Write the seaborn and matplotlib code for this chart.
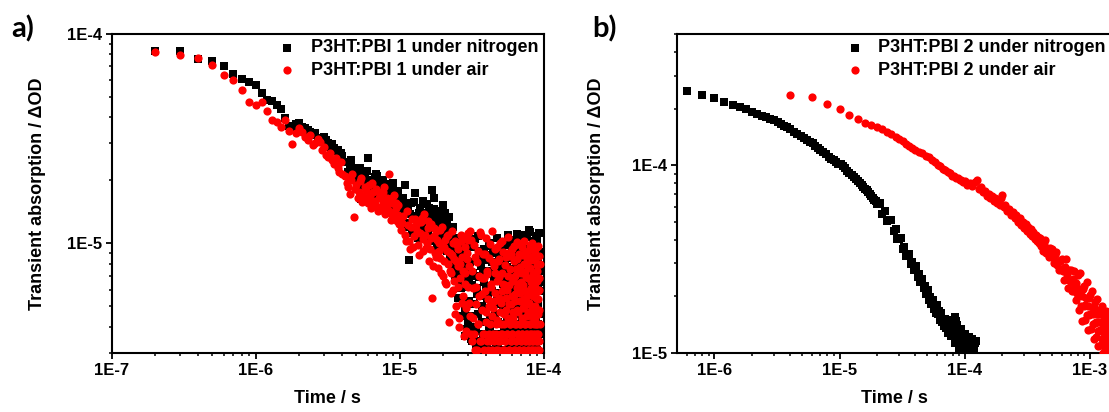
import numpy as np
import matplotlib
matplotlib.use("Agg")
import matplotlib.pyplot as plt
import seaborn as sns
from matplotlib.ticker import LogLocator, FuncFormatter, NullFormatter

# ---------------- data: panel a (time in units of 1e-7 s, dOD in units of 1e-6) ----------------
time_a_100ns = [
    2, 3, 4, 5, 6, 7, 8, 9, 10, 11, 12, 13, 14, 15, 16, 17, 18, 19, 20,
    21, 22, 23, 24, 25, 26, 27, 28, 29, 30, 31, 32, 33, 34, 35, 36, 37, 38, 39, 40,
    42, 44, 46, 48, 50, 52, 54, 56, 58, 60, 62, 64, 66, 68, 70, 72, 74, 76, 78, 80,
    82, 84, 86, 88, 90, 92, 94, 96, 98, 100,
    104, 108, 112, 116, 120, 124, 128, 132, 136, 140, 144, 148, 152, 156, 160, 164, 168,
    172, 176, 180, 184, 188, 192, 196, 200, 204, 208, 212, 216, 220, 224, 228, 232, 236,
    240, 244, 248, 252, 256, 260, 264, 268, 272, 276, 280, 284, 288, 292, 296, 300,
    305, 310, 315, 320, 325, 330, 335, 340, 345, 350, 355, 360, 365, 370, 375, 380,
    385, 390, 395, 400, 405, 410, 415, 420, 425, 430, 435, 440, 445, 450, 455, 460,
    465, 470, 475, 480, 485, 490, 495, 500, 505, 510, 515, 520, 525, 530, 535, 540,
    545, 550, 555, 560, 565, 570, 575, 580, 585, 590, 595, 600, 605, 610, 615, 620,
    625, 630, 635, 640, 645, 650, 655, 660, 665, 670, 675, 680, 685, 690, 695, 700,
    705, 710, 715, 720, 725, 730, 735, 740, 745, 750, 755, 760, 765, 770, 775, 780,
    785, 790, 795, 800, 805, 810, 815, 820, 825, 830, 835, 840, 845, 850, 855, 860,
    865, 870, 875, 880, 885, 890, 895, 900, 905, 910, 915, 920, 925, 930, 935, 940,
]
nitrogen_a = [
    83, 83, 76, 74, 70, 64.5, 61, 59, 57, 52, 48.5, 48, 46, 44, 39.5, 36.5, 36, 37, 37.7,
    36, 35.5, 34.7, 34, 33, 33.5, 32, 31.5, 30.5, 32.3, 31, 30, 29, 29.8, 28.5, 27.5, 28, 26.4, 27, 26,
    24.5, 22, 25, 21.5, 22.8, 20.5, 16.2, 21, 19.5, 25.5, 15.8, 20, 18.5, 21.5, 20.9, 17.5, 19, 18,
    16.5, 18.8, 17, 15.5, 18, 16.8, 19.5, 15, 17.2, 14.5, 16, 15.2,
    14.5, 19, 12.5, 8.3, 15.5, 13, 17.3, 11.8, 14, 12.2, 16, 10.8, 13.5, 11.5, 14.8, 12, 18,
    16.4, 10.5, 13, 11.2, 14.2, 9.8, 12.5, 15.2, 10.5, 12.8, 9.2, 11.5, 13.4, 8.8, 11.8, 10, 7.5,
    9.5, 6.8, 10.6, 8.2, 5.5, 9, 7, 10.2, 4.5, 8, 6.2, 3.6, 9.4, 5.2, 7.6, 4.2,
    6.8, 4.5, 9.6, 3.4, 7.2, 5.1, 10.5, 3.8, 6.1, 8.4, 3.2, 5.6, 7.8, 4.2, 9.2, 3.6,
    6.5, 4.8, 8.8, 3.3, 5.4, 7.4, 3.9, 9.7, 4.4, 6.2, 3.5, 8.1, 5.2, 3.1, 7.0, 4.6,
    9.0, 3.7, 5.8, 6.9, 3.2, 8.6, 4.1, 5.3, 7.6, 3.4, 10.1, 4.9, 6.4, 3.6, 5.5, 8.2,
    3.9, 6.6, 4.3, 9.8, 3.1, 5.9, 7.3, 4.7, 3.5, 8.5, 5.0, 6.3, 3.3, 10.4, 4.4, 7.1,
    5.7, 3.8, 8.9, 4.1, 6.0, 3.2, 7.7, 5.2, 9.3, 3.6, 4.8, 6.7, 10.4, 3.4, 5.5, 8.0,
    4.2, 6.4, 3.1, 9.1, 5.1, 7.5, 3.7, 4.6, 11.0, 6.1, 3.3, 8.3, 5.4, 4.0, 7.0, 3.5,
    11.6, 5.8, 4.3, 8.7, 3.2, 6.6, 9.6, 4.9, 3.6, 7.2, 5.3, 10.2, 3.4, 6.2, 4.5, 8.8,
    3.9, 7.9, 5.6, 10.8, 3.3, 6.9, 4.7, 9.5, 3.1, 5.2, 8.2, 4.1, 6.5, 11.2, 3.7, 7.4,
]
air_a = [
    82, 79, 76.5, 71, 64, 60, 54, 47.3, 45.8, 47.5, 43, 39, 38, 36, 39, 34.5, 29.8, 33.5, 35.5,
    34, 32.3, 31, 33, 29.5, 30, 31.5, 30.5, 28, 29, 26.5, 25.9, 27, 25, 24, 25.5, 23, 22, 24.5, 21.5,
    21, 18.5, 20, 13.4, 19, 17.5, 20.5, 16.8, 18, 15.5, 17, 19.5, 16, 15, 17.8, 16.5, 14.5, 16,
    18.5, 15, 16.5, 21.4, 14, 15.5, 13.5, 17, 14.8, 12.8, 15.2, 13.2,
    12.5, 11, 14.2, 10.2, 12, 9.6, 13, 11.5, 8.8, 12.6, 10.5, 13.8, 9.5, 11.8, 8.2, 12.4, 5.5,
    10.8, 9, 11.4, 7.6, 10, 8.5, 12, 7, 9.6, 6.5, 10.8, 8, 4.2, 9, 7.2, 11.5, 6,
    8.4, 10.2, 5, 7.8, 9.4, 4, 6.8, 11, 8.6, 5.6, 10.5, 7.2, 3.8, 9, 6.2, 11.2,
    5.2, 11.5, 3.7, 7.4, 4.4, 9.8, 3.1, 6.2, 8.1, 4.1, 5.6, 11.3, 3.4, 6.8, 4.8, 8.9,
    3.7, 5.9, 10.6, 4.2, 7.1, 3.1, 5.0, 8.5, 3.4, 6.4, 11.4, 4.5, 3.7, 7.8, 5.3, 9.4,
    4.1, 3.1, 6.6, 8.2, 3.4, 5.5, 10.0, 4.7, 3.7, 7.2, 5.9, 3.1, 9.1, 4.1, 6.3, 3.4,
    8.6, 4.8, 3.7, 6.0, 10.7, 3.1, 5.1, 7.5, 4.1, 3.4, 8.9, 5.6, 3.7, 6.7, 4.4, 9.7,
    3.1, 5.3, 7.0, 4.1, 3.4, 8.4, 6.1, 3.7, 4.7, 9.9, 3.1, 5.8, 7.7, 4.1, 3.4, 6.5,
    8.8, 3.7, 4.9, 6.3, 3.1, 10.3, 5.4, 4.1, 7.3, 3.4, 5.9, 8.1, 3.7, 4.5, 6.8, 3.1,
    9.3, 5.1, 3.4, 7.6, 4.1, 6.1, 3.7, 8.6, 4.8, 3.1, 10.0, 5.6, 3.4, 7.0, 4.3, 6.4,
    3.7, 8.3, 5.0, 3.1, 9.5, 4.1, 6.6, 3.4, 7.9, 5.4, 3.7, 4.6, 8.7, 3.1, 6.0, 4.1,
]
# in-between samples of panel a (same units)
time_a_mid_100ns = [
    43, 45, 47, 49, 51, 53, 55, 57, 59, 61, 63, 65, 67, 69, 71, 73, 75, 77, 79, 81,
    83, 85, 87, 89, 91, 93, 95, 97, 99,
    102, 106, 110, 114, 118, 122, 126, 130, 134, 138, 142, 146, 150, 154, 158, 162, 166,
    170, 174, 178, 182, 186, 190, 194, 198, 202, 206, 210, 214, 218, 222, 226, 230, 234,
    238, 242, 246, 250, 254, 258, 262, 266, 270, 274, 278, 282, 286, 290, 294, 298,
    302, 307, 312, 317, 322, 327, 332, 337, 342, 347, 352, 357, 362, 367, 372, 377,
    382, 387, 392, 397, 402, 407, 412, 417, 422, 427, 432, 437, 442, 447, 452, 457,
    462, 467, 472, 477, 482, 487, 492, 497, 502, 507, 512, 517, 522, 527, 532, 537,
    542, 547, 552, 557, 562, 567, 572, 577, 582, 587, 592, 597, 602, 607, 612, 617,
    622, 627, 632, 637, 642, 647, 652, 657, 662, 667, 672, 677, 682, 687, 692, 697,
    702, 707, 712, 717, 722, 727, 732, 737, 742, 747, 752, 757, 762, 767, 772, 777,
    782, 787, 792, 797, 802, 807, 812, 817, 822, 827, 832, 837, 842, 847, 852, 857,
    862, 867, 872, 877, 882, 887, 892, 897, 902, 907, 912, 917, 922, 927, 932, 937,
]
nitrogen_a_mid = [
    21, 24, 20.2, 22.5, 19.8, 23, 18.8, 20.5, 22.2, 18, 19.8, 17.2, 20.8, 18.5, 16.8, 19.6,
    17.8, 20.1, 16.2, 18.2, 15.8, 17.6, 19.2, 15.6, 17.4, 16.4, 14.9, 17.8, 16.2,
    13.2, 16.5, 12, 15, 13.8, 11.2, 15.8, 13.5, 10.6, 14.8,
    12.6, 13.9, 11.4, 15.4, 12.8, 10.2, 13.6, 11.8, 14.6, 12.2,
    9.6, 12.9, 11, 13.8, 10.4, 12, 14, 9.8, 12.4, 10.8,
    8.6, 11.2, 9.3, 12, 8.2, 10.4, 7.4, 9.6, 6.6, 8.9,
    10.6, 6.1, 8.4, 5.4, 9.8, 7.2, 4.8, 8.6, 3.9, 6.6,
    5.3, 8.1, 3.5, 6.3, 9.9, 4.0, 7.0, 3.2, 5.7, 10.8, 4.6, 6.9, 3.4, 8.5, 5.0, 7.3,
    3.7, 9.4, 4.9, 6.0, 3.2, 8.3, 5.6, 10.0, 3.9, 7.1, 4.3, 5.9, 9.1, 3.5, 6.6, 4.5,
    7.9, 3.3, 5.4, 10.6, 4.2, 6.8, 3.6, 8.9, 5.1, 7.4, 3.1, 9.5, 4.7, 6.1, 3.8, 8.4,
    5.5, 3.4, 7.7, 4.4, 10.9, 6.3, 3.2, 5.2, 8.8, 4.0, 6.9, 3.7, 9.7, 5.6, 4.3, 7.5,
    3.3, 6.4, 9.0, 4.6, 5.9, 3.5, 11.1, 7.2, 4.1, 6.0, 3.2, 8.6, 5.3, 9.9, 3.8, 6.7,
    10.5, 4.4, 7.1, 3.4, 5.7, 8.9, 3.9, 6.2, 4.8, 9.4, 3.1, 7.6, 5.5, 10.7, 4.2, 6.5,
    3.6, 8.0, 5.1, 11.3, 4.5, 6.8, 3.3, 9.2, 5.8, 4.0, 7.3, 3.5, 10.1, 6.0, 4.7, 8.4,
    5.4, 3.2, 9.6, 6.6, 4.3, 7.8, 3.6, 10.4, 5.0, 8.7, 3.4, 6.3, 4.6, 9.1, 5.9, 3.8,
]
air_a_mid = [
    19.5, 17.2, 21.5, 18.2, 16.5, 19.8, 15.8, 18.5, 16.2, 19, 14.8, 17.6, 15.4, 18.2, 14.2,
    16.8, 15, 17.5, 13.8, 16.2, 14.4, 15.8, 12.9, 16.5, 14.1, 13.2, 15.6, 13.7, 12.4,
    11.6, 13.5, 10.2, 12.2, 9.4, 13, 10.8, 12.2, 9.8, 11.2,
    13.2, 9.2, 11, 10, 12.8, 9.4, 10.6, 7.8, 11.8, 8.6,
    10.4, 9.2, 11.6, 7.2, 9.8, 8.2, 10.4, 6.4, 9.2, 11,
    7.4, 5.8, 8.8, 10, 6.6, 4.6, 8.2, 9.8, 6.2, 4.4,
    8, 10.2, 5.2, 7.4, 3.6, 9.6, 6.4, 4.9, 8.4, 10.4,
    7.8, 4.5, 10.4, 3.4, 6.1, 3.7, 8.6, 5.1, 3.1, 9.2, 4.1, 7.0, 3.4, 10.9, 5.7, 3.7,
    6.8, 3.1, 8.9, 4.7, 3.4, 7.4, 5.4, 3.7, 9.9, 4.1, 6.2, 3.1, 8.1, 4.9, 3.4, 7.2,
    5.8, 3.7, 9.6, 4.3, 3.1, 6.9, 8.4, 3.4, 5.2, 4.1, 10.3, 3.7, 6.4, 4.6, 3.1, 7.9,
    3.4, 5.5, 9.0, 3.7, 4.4, 7.0, 3.1, 6.3, 8.7, 4.1, 3.4, 5.1, 9.4, 3.7, 6.6, 4.7,
    8.2, 3.1, 5.7, 4.1, 7.5, 3.4, 10.1, 4.8, 3.7, 6.4, 8.9, 3.1, 5.3, 4.1, 7.2, 3.4,
    4.4, 9.6, 3.7, 6.0, 3.1, 8.0, 5.0, 3.4, 9.0, 4.1, 6.9, 3.7, 5.6, 8.5, 3.1, 4.7,
    7.7, 3.4, 5.2, 9.8, 4.1, 3.7, 6.5, 3.1, 8.3, 4.5, 3.4, 7.1, 5.8, 3.7, 9.3, 4.1,
    3.1, 6.2, 4.4, 8.9, 3.4, 5.5, 3.7, 7.4, 4.1, 9.7, 3.1, 5.9, 3.4, 6.8, 4.8, 8.0,
]

# ---------------- data: panel b (time in microseconds, dOD in units of 1e-6) ----------------
time_b_nitrogen_us = [
    0.6, 0.8, 1.0, 1.2, 1.4, 1.6, 1.8, 2.0, 2.2, 2.4, 2.6, 2.8, 3.0, 3.2, 3.4, 3.6, 3.8, 4.0,
    4.3, 4.6, 4.9, 5.2, 5.5, 5.8, 6.1, 6.4, 6.7, 7.0,
    7.4, 7.8, 8.2, 8.6, 9.0, 9.4, 9.8, 10.2, 10.6, 11.0,
    11.5, 12.0, 12.5, 13.0, 13.5, 14.0, 14.5, 15.0, 15.5, 16.0, 16.5, 17.0, 17.5, 18.0,
    18.5, 19.0, 19.5, 20.0,
    21, 22, 23, 24, 25, 26, 27, 28, 29, 30, 31, 32, 33, 34, 35, 36, 37, 38, 39, 40,
    41, 42, 43, 44, 45, 46, 47, 48, 49, 50, 51, 52, 53, 54, 55, 56, 57, 58, 59,
    60, 61, 62, 63, 64, 65, 66, 67, 68, 69, 70, 71, 72, 73, 74, 75, 76, 77, 78, 79,
    80, 81, 82, 83, 84, 85, 86, 87, 88, 89, 90, 91, 92, 93, 94, 95, 96, 97, 98, 99,
    100, 101, 102, 103, 104, 105, 106, 107, 108, 109, 110, 111, 112, 113, 114, 115,
    116, 117, 118, 119, 120, 121, 122,
]
nitrogen_b = [
    248, 236, 227, 217, 210, 204, 198, 192, 188, 183, 180, 177, 173, 169, 166, 162, 159, 155,
    150, 146, 143, 139, 136, 133, 131, 127, 124, 121,
    118, 115, 111, 108, 106, 104, 102, 101, 99, 96,
    93, 91, 89, 86, 84, 82, 80, 78, 76.5, 75, 73.5, 72, 70, 68.5,
    67, 65.5, 64, 62,
    63, 55.2, 56.6, 50.4, 51, 50.9, 44.6, 45.4, 40.4, 40.5, 41, 35.5, 36.7, 32.8, 33.5, 33.6, 29.8, 30.6, 27.6, 28.2,
    28.9, 25.4, 26.3, 23.8, 24.2, 24.7, 22.1, 22.6, 20.5, 21, 21.5, 19.2, 19.8, 18.1, 18.6, 19.2, 17.1, 17.9, 16.3,
    17.9, 16.1, 16.6, 15.0, 15.7, 16.3, 14.6, 15.2, 13.8, 14.5, 15.1, 13.6, 14.1, 12.8, 13.5, 14.2, 12.9, 13.5, 12.3, 13.0,
    15.0, 12.3, 13.4, 11.2, 15.5, 14.8, 11.4, 14.1, 11.6, 12.7, 10.6, 11.9, 13.0, 10.8, 13.3, 10.9, 12.0, 9.9, 11.2, 12.2,
    10.1, 12.6, 10.4, 11.4, 9.5, 10.75, 11.8, 9.8, 12.2, 10.0, 11.0, 9.2, 10.4, 11.4, 9.5, 11.8,
    9.8, 10.8, 9.0, 10.2, 11.2, 9.3, 11.6,
]
time_b_air_us = [
    4, 6, 8, 10, 12, 14, 16, 18,
    20, 22, 24, 26, 28, 30, 32, 34, 36, 38, 40,
    43, 46, 49, 52, 55, 58, 61, 64, 67, 70, 73, 76, 79, 82, 85, 88, 91, 94, 97,
    100, 105, 110, 115, 120, 125, 130, 135, 140, 145, 150, 155, 160, 165, 170, 175, 180,
    185, 190, 195, 200, 205, 210,
    218, 226, 234, 242, 250, 258, 266, 274, 282, 290, 298, 306, 314, 322, 330, 338, 346,
    354, 362, 370, 378, 386, 394,
    400, 410, 420, 430, 440, 450, 460, 470, 480, 490,
    500, 510, 520, 530, 540, 550, 560, 570, 580, 590,
    600, 610, 620, 630, 640, 650, 660, 670, 680, 690,
    700, 710, 720, 730, 740, 750, 760, 770, 780, 790,
    800, 810, 820, 830, 840, 850, 860, 870, 880, 890,
    900, 910, 920, 930, 940, 950, 960, 970, 980, 990,
    1000, 1010, 1020, 1030, 1040, 1050, 1060, 1070, 1080, 1090,
    1100, 1110, 1120, 1130, 1140, 1150, 1160, 1170, 1180, 1190,
    1200, 1210, 1220, 1230, 1240, 1250, 1260, 1270, 1280, 1290,
    1300, 1310, 1320, 1330, 1340, 1350, 1360, 1370, 1380, 1390,
    1400, 1410, 1420, 1430, 1440, 1450, 1460, 1470, 1480, 1490, 1500,
]
air_b = [
    236, 230, 213, 198, 185, 176, 168, 163,
    159, 155, 150, 146, 142, 138, 134, 130, 127, 124, 121,
    118, 116, 112, 110, 106, 104, 100, 99, 95.5, 94, 92, 91, 88, 87.5, 85.5, 85, 83.5, 83, 81,
    82.5, 78.5, 80.5, 77, 81.5, 83, 75, 76, 71.5, 73, 68.5, 70.5, 66.5, 68.5, 64.5, 66.5, 63,
    65, 61.5, 67, 69, 60, 61.5,
    57, 58.5, 54.5, 56.5, 52, 54, 50, 52, 48, 50, 46, 48.5, 44.5, 47, 43, 45.5, 42,
    44, 40.5, 42.5, 39.5, 41.5, 38.5,
    40.8, 37.2, 34.9, 38.1, 39.8, 34.2, 35.5, 32.2, 36.2, 33.0,
    35.5, 32.3, 30.2, 33.0, 34.3, 29.5, 30.5, 27.6, 31.0, 28.1,
    31.4, 27.4, 24.5, 28.6, 31.4, 24.7, 26.4, 22.1, 27.5, 24.0,
    27.5, 23.9, 21.3, 24.8, 27.1, 21.2, 22.7, 19.0, 23.6, 20.7,
    25.8, 20.1, 16.8, 21.9, 26.7, 17.8, 20.0, 14.8, 21.8, 17.7,
    22.8, 17.9, 14.9, 19.5, 23.7, 15.8, 17.8, 13.2, 19.5, 15.8,
    20.4, 16.0, 13.4, 17.5, 21.3, 14.3, 16.0, 11.9, 17.6, 14.4,
    18.6, 14.6, 12.2, 16.0, 19.4, 13.0, 14.6, 10.9, 16.0, 13.1,
    16.8, 13.2, 11.0, 14.5, 17.7, 11.9, 13.4, 10.0, 14.8, 12.1,
    15.6, 12.3, 10.3, 13.6, 16.6, 11.2, 12.7, 9.5, 14.1, 11.5,
    15.0, 11.8, 9.9, 13.1, 16.0, 10.8, 12.2, 9.1, 13.6, 11.1, 12.0,
]

labels_a = ["P3HT:PBI 1 under nitrogen", "P3HT:PBI 1 under air"]
labels_b = ["P3HT:PBI 2 under nitrogen", "P3HT:PBI 2 under air"]

for a, b in [(time_a_100ns, nitrogen_a), (time_a_100ns, air_a),
             (time_a_mid_100ns, nitrogen_a_mid), (time_a_mid_100ns, air_a_mid),
             (time_b_nitrogen_us, nitrogen_b), (time_b_air_us, air_b)]:
    assert len(a) == len(b), (len(a), len(b))

# ---------------- style ----------------
sns.set_style("ticks")
plt.rcParams["font.family"] = ["Liberation Sans", "DejaVu Sans"]
plt.rcParams.update({
    "font.weight": "bold",
    "axes.labelweight": "bold",
    "axes.edgecolor": "black",
    "axes.labelcolor": "black",
    "text.color": "black",
    "xtick.color": "black",
    "ytick.color": "black",
    "axes.linewidth": 1.5,
})

fig = plt.figure(figsize=(11.09, 4.12), dpi=100)
ax_a = fig.add_axes([0.10072, 0.14393, 0.38954, 0.77354])
ax_b = fig.add_axes([0.61073, 0.14393, 0.39107, 0.77354])

sq_size, dot_size = 27, 35

ta = np.array(time_a_100ns + time_a_mid_100ns) * 1e-7
ya_n = np.array(nitrogen_a + nitrogen_a_mid) * 1e-6
ya_r = np.array(air_a + air_a_mid) * 1e-6
sns.scatterplot(x=ta, y=ya_n, ax=ax_a, marker="s", color="black",
                s=sq_size, linewidth=0, zorder=2, legend=False)
sns.scatterplot(x=ta, y=ya_r, ax=ax_a, marker="o", color="red",
                s=dot_size, linewidth=0, zorder=3, legend=False)

sns.scatterplot(x=np.array(time_b_nitrogen_us) * 1e-6, y=np.array(nitrogen_b) * 1e-6, ax=ax_b,
                marker="s", color="black", s=sq_size, linewidth=0, zorder=2, legend=False)
sns.scatterplot(x=np.array(time_b_air_us) * 1e-6, y=np.array(air_b) * 1e-6, ax=ax_b,
                marker="o", color="red", s=dot_size, linewidth=0, zorder=3, legend=False)

fmt = FuncFormatter(lambda v, p: "1E%d" % int(round(np.log10(v))))

for ax, xlim, ylim, labs in [(ax_a, (1e-7, 1e-4), (3.0e-6, 1e-4), labels_a),
                             (ax_b, (5.06e-7, 1.474e-3), (1e-5, 5.0e-4), labels_b)]:
    ax.set_xscale("log")
    ax.set_yscale("log")
    ax.set_xlim(*xlim)
    ax.set_ylim(*ylim)
    for axis in (ax.xaxis, ax.yaxis):
        axis.set_major_locator(LogLocator(base=10, numticks=20))
        axis.set_minor_locator(LogLocator(base=10, subs=np.arange(2, 10), numticks=40))
        axis.set_major_formatter(fmt)
        axis.set_minor_formatter(NullFormatter())
    ax.tick_params(which="major", direction="out", length=4.2, width=1.3, labelsize=12, pad=3,
                   top=False, right=False)
    ax.tick_params(which="minor", direction="out", length=2.5, width=1.1, top=False, right=False)
    for sp in ax.spines.values():
        sp.set_visible(True)
        sp.set_linewidth(1.5)
        sp.set_color("black")
    ax.set_xlabel("Time / s", fontsize=13, fontweight="bold")
    ax.set_ylabel("Transient absorption / ΔOD", fontsize=13, fontweight="bold")
    ax.legend(handles=ax.collections[:2], labels=labs, loc="upper right", frameon=False,
              prop={"size": 13, "weight": "bold"}, handlelength=1.0, handletextpad=0.8,
              borderaxespad=0.0, borderpad=0.3, labelspacing=0.3, markerscale=1.0)

ax_a.xaxis.set_label_coords(0.5, -0.117)
ax_b.xaxis.set_label_coords(0.5, -0.117)
ax_a.yaxis.set_label_coords(-0.151, 0.5)
ax_b.yaxis.set_label_coords(-0.1656, 0.5)

fig.text(23 / 1109, 1 - 29 / 412, "a)", fontsize=21, fontweight="bold",
         family=["Lato", "DejaVu Sans"], ha="center", va="center")
fig.text(604 / 1109, 1 - 29 / 412, "b)", fontsize=21, fontweight="bold",
         family=["Lato", "DejaVu Sans"], ha="center", va="center")

fig.savefig("out.png", dpi=100)
